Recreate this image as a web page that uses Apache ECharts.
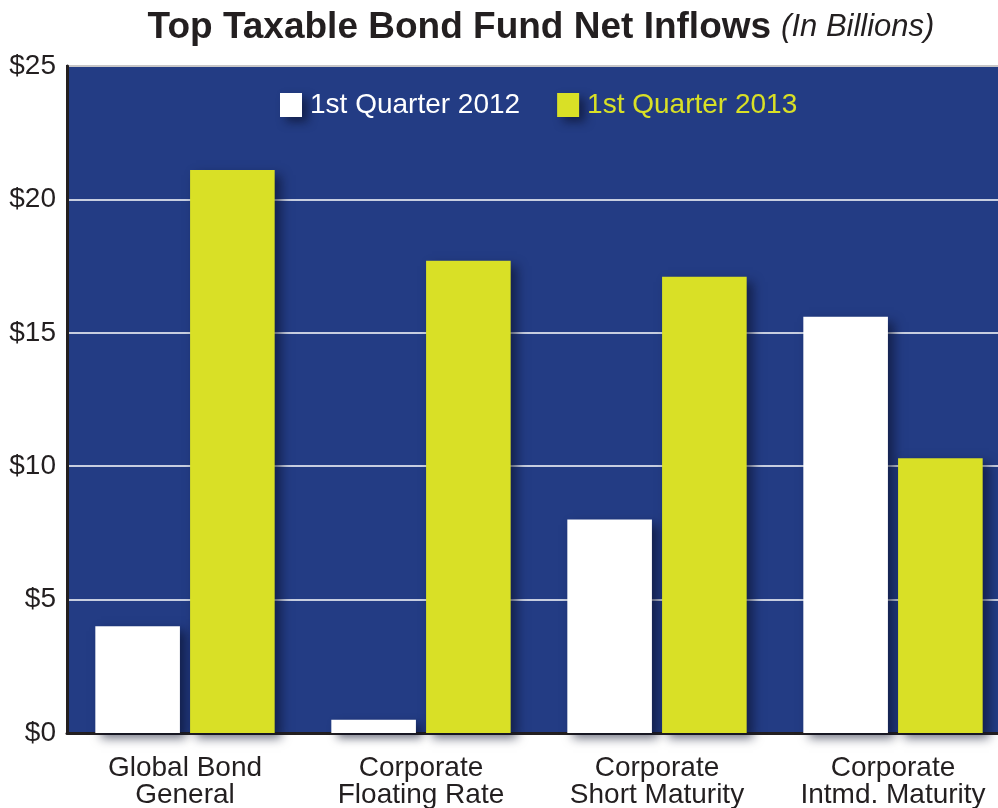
<!DOCTYPE html>
<html>
<head>
<meta charset="utf-8">
<script src="https://cdn.jsdelivr.net/npm/echarts@6/dist/echarts.min.js"></script>
<style>
  html, body { margin: 0; padding: 0; background: #fff; }
  #main { width: 998px; height: 808px; }
</style>
</head>
<body>
<div id="main"></div>
<script>
// categories and values (in billions)
var categories = ['Global Bond\nGeneral', 'Corporate\nFloating Rate', 'Corporate\nShort Maturity', 'Corporate\nIntmd. Maturity'];
var q2012 = [4.0, 0.5, 8.0, 15.6];
var q2013 = [21.1, 17.7, 17.1, 10.3];
var seriesNames = ['1st Quarter 2012', '1st Quarter 2013'];

var chart = echarts.init(document.getElementById('main'));

var shadow = {
  shadowBlur: 10,
  shadowOffsetX: 6,
  shadowOffsetY: 5,
  shadowColor: 'rgba(10, 15, 40, 0.6)'
};

var option = {
  animation: false,
  textStyle: { fontFamily: 'Liberation Sans' },
  title: {
    text: '{b|Top Taxable Bond Fund Net Inflows}  {i|(In Billions)}',
    left: 536,
    top: 4,
    textAlign: 'center',
    textStyle: {
      fontWeight: 'normal',
      rich: {
        b: { fontSize: 37, fontWeight: 'bold', color: '#231f20', fontFamily: 'Liberation Sans' },
        i: { fontSize: 31, fontWeight: 'normal', fontStyle: 'italic', color: '#231f20', fontFamily: 'Liberation Sans' }
      }
    }
  },
  legend: {
    top: 86,
    left: 275,
    itemWidth: 22,
    itemHeight: 24,
    itemGap: 37,
    icon: 'rect',
    data: [
      { name: seriesNames[0], textStyle: { color: '#ffffff' } },
      { name: seriesNames[1], textStyle: { color: '#d9e026' } }
    ],
    textStyle: { fontSize: 28, padding: [0, 0, 0, 3] },
    itemStyle: shadow
  },
  grid: {
    left: 67,
    top: 66,
    width: 944,
    height: 667,
    outerBoundsMode: 'none',
    containLabel: false,
    show: true,
    backgroundColor: '#233c84',
    borderColor: '#231f20',
    borderWidth: 2
  },
  xAxis: {
    type: 'category',
    data: categories,
    axisLine: { show: true, lineStyle: { color: '#231f20', width: 3 } },
    axisTick: { show: false },
    axisLabel: {
      interval: 0,
      hideOverlap: false,
      color: '#231f20',
      fontSize: 28,
      lineHeight: 27,
      margin: 22
    }
  },
  yAxis: {
    type: 'value',
    min: 0,
    max: 25,
    interval: 5,
    axisLine: { show: true, lineStyle: { color: '#231f20', width: 3 } },
    axisTick: { show: false },
    axisLabel: {
      color: '#231f20',
      fontSize: 28,
      margin: 11,
      formatter: '${value}'
    },
    splitLine: { show: true, lineStyle: { color: '#ffffff', width: 1.5 } }
  },
  series: [
    {
      name: seriesNames[0],
      type: 'bar',
      data: q2012,
      barGap: '12%',
      barCategoryGap: '24%',
      itemStyle: Object.assign({ color: '#ffffff' }, shadow)
    },
    {
      name: seriesNames[1],
      type: 'bar',
      data: q2013,
      itemStyle: Object.assign({ color: '#d9e026' }, shadow)
    }
  ]
};

chart.setOption(option);
</script>
</body>
</html>
